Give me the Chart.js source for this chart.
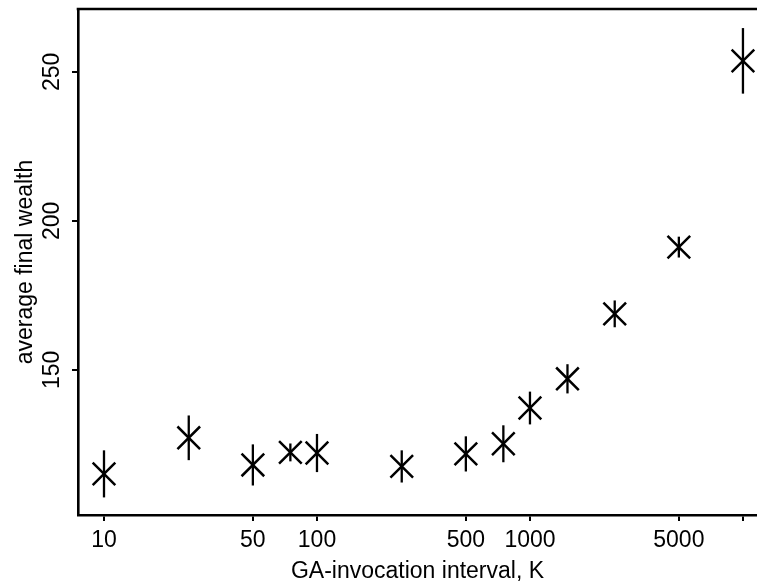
<!DOCTYPE html>
<html><head><meta charset="utf-8">
<script src="https://cdn.jsdelivr.net/npm/chart.js@4"></script>
<style>html,body{margin:0;padding:0;background:#fff;overflow:hidden}#wrap{width:757px;height:585px}</style>
</head><body><div id="wrap"><canvas id="c" width="757" height="585"></canvas></div>
<script>
const intervals = [10, 25, 50, 75, 100, 250, 500, 750, 1000, 1500, 2500, 5000, 10000];
const wealth    = [115.1, 127.2, 118.1, 122.3, 122.1, 117.6, 121.8, 125.2, 137.2, 147.0, 168.8, 191.2, 253.7];
const errors    = [7.9, 7.5, 6.9, 3.0, 6.4, 5.4, 5.9, 6.2, 5.5, 4.9, 4.5, 3.5, 11.0];
const xTicks = [10, 50, 100, 500, 1000, 5000, 10000];
const xTickLabels = ['10', '50', '100', '500', '1000', '5000', ''];
const yTicks = [150, 200, 250];
const yTickLabels = ['150', '200', '250'];

const FONT = '"Liberation Sans", Arial, Helvetica, sans-serif';
const FS = 23;

const extras = {
  id: 'extras',
  afterDatasetsDraw(chart) {
    const {ctx, scales: {x, y}} = chart;
    ctx.save();
    ctx.strokeStyle = '#000';
    ctx.lineWidth = 2.3;
    intervals.forEach((v, i) => {
      const px = x.getPixelForValue(v);
      ctx.beginPath();
      ctx.moveTo(px, y.getPixelForValue(wealth[i] - errors[i]));
      ctx.lineTo(px, y.getPixelForValue(wealth[i] + errors[i]));
      ctx.stroke();
    });
    ctx.restore();
  },
  afterDraw(chart) {
    const {ctx, chartArea: a, scales: {y}} = chart;
    ctx.save();
    ctx.strokeStyle = '#000';
    ctx.lineWidth = 2.6;
    ctx.beginPath();
    ctx.moveTo(a.left - 1.3, a.top);
    ctx.lineTo(a.right + 2, a.top);
    ctx.stroke();
    ctx.fillStyle = '#000';
    ctx.font = FS + 'px ' + FONT;
    ctx.textAlign = 'center';
    ctx.textBaseline = 'middle';
    yTicks.forEach((v, i) => {
      const py = y.getPixelForValue(v);
      ctx.save();
      ctx.translate(53, py);
      ctx.rotate(-Math.PI / 2);
      ctx.fillText(yTickLabels[i], 0, 0);
      ctx.restore();
    });
    ctx.restore();
  }
};

new Chart(document.getElementById('c'), {
  type: 'scatter',
  data: {
    datasets: [{
      data: intervals.map((v, i) => ({x: v, y: wealth[i]})),
      pointStyle: 'crossRot',
      pointRadius: 16,
      pointHoverRadius: 16,
      borderColor: '#000',
      backgroundColor: '#000',
      pointBorderWidth: 2.5,
      showLine: false
    }]
  },
  options: {
    responsive: false,
    animation: false,
    events: [],
    layout: {autoPadding: false, padding: {left: 10, top: 9, right: 0, bottom: 2}},
    plugins: {legend: {display: false}, tooltip: {enabled: false}},
    scales: {
      x: {
        type: 'logarithmic',
        min: 7.55,
        max: 11640,
        afterBuildTicks: s => { s.ticks = xTicks.map(v => ({value: v})); },
        ticks: {
          autoSkip: false, maxRotation: 0, minRotation: 0, padding: 8,
          color: '#000', font: {size: FS, family: FONT, lineHeight: 1},
          callback: (v, i) => xTickLabels[i]
        },
        grid: {drawOnChartArea: false, drawTicks: true, tickLength: 6, color: '#000', lineWidth: 2},
        border: {display: true, color: '#000', width: 2.6},
        title: {display: true, text: 'GA-invocation interval, K', color: '#000',
                font: {size: FS, family: FONT, lineHeight: 1}, padding: {top: 0, bottom: 0}}
      },
      y: {
        type: 'linear',
        min: 101.3,
        max: 271.1,
        afterBuildTicks: s => { s.ticks = yTicks.map(v => ({value: v})); },
        ticks: {display: false},
        grid: {drawOnChartArea: false, drawTicks: true, tickLength: 6, color: '#000', lineWidth: 2},
        border: {display: true, color: '#000', width: 2.6},
        title: {display: true, text: 'average final wealth', color: '#000',
                font: {size: FS, family: FONT, lineHeight: 1}, padding: {top: 4.5, bottom: 34.5}}
      }
    }
  },
  plugins: [extras]
});
</script>
</body></html>
